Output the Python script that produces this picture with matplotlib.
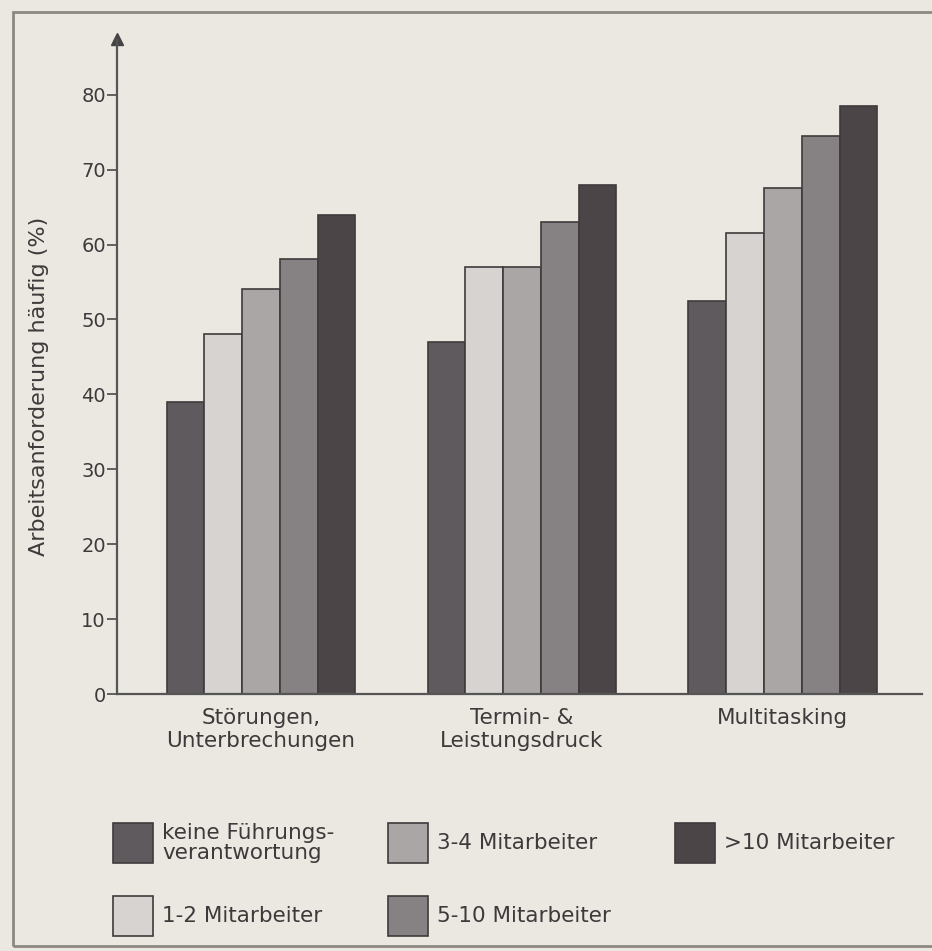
import numpy as np
import matplotlib.pyplot as plt
from matplotlib.patches import Rectangle

# data
categories = ['Störungen,\nUnterbrechungen', 'Termin- &\nLeistungsdruck', 'Multitasking']
series = ['keine Führungs-\nverantwortung', '1-2 Mitarbeiter', '3-4 Mitarbeiter',
          '5-10 Mitarbeiter', '>10 Mitarbeiter']
values = [
    [39, 47, 52.5],    # keine Führungsverantwortung
    [48, 57, 61.5],    # 1-2
    [54, 57, 67.5],    # 3-4
    [58, 63, 74.5],    # 5-10
    [64, 68, 78.5],    # >10
]
yticks = [0, 10, 20, 30, 40, 50, 60, 70, 80]

colors = ['#5f5a5e', '#d6d3d1', '#aaa6a6', '#868183', '#4b4547']
bg = '#ebe8e2'
edge = '#3f3a3c'
txt = '#3d3a3b'

plt.rcParams['font.family'] = ['DejaVu Sans']

fig = plt.figure(figsize=(9.32, 9.51), dpi=100, facecolor=bg)
ax = fig.add_axes([117/932, 1-694/951, 805/932, 654/951])
ax.set_facecolor(bg)

x = np.arange(len(categories))
w = 0.1448
for i, (s, v) in enumerate(zip(series, values)):
    ax.bar(x + (i - 2) * w, v, width=w, color=colors[i], edgecolor=edge, linewidth=1.2)

ax.set_xlim(-0.552, 2.533)
ax.set_ylim(0, 87.3)
ax.set_yticks(yticks)
ax.set_xticks(x)
ax.set_xticklabels(categories, fontsize=15.5, color=txt, linespacing=1.2)
ax.tick_params(axis='x', length=0, pad=10)
ax.tick_params(axis='y', length=7, width=1.3, color='#555', labelsize=14, labelcolor=txt, pad=1)
for side in ['top', 'right']:
    ax.spines[side].set_visible(False)
for side in ['left', 'bottom']:
    ax.spines[side].set_color('#555')
    ax.spines[side].set_linewidth(1.6)
# arrow at the top of the y axis
ax.plot([-0.552], [87.4], marker='^', color='#444', markersize=8, clip_on=False)
ax.set_ylabel('Arbeitsanforderung häufig (%)', fontsize=16, color=txt)
ax.yaxis.set_label_coords(-0.085, 0.47)

# legend, laid out by hand (pixel positions of the swatches)
leg = [
    (113, 823, 0), (388, 823, 2), (675, 823, 4),
    (113, 896, 1), (388, 896, 3),
]
for lx, ly, i in leg:
    fig.patches.append(Rectangle((lx/932, 1-(ly+40)/951), 40/932, 40/951,
                                 transform=fig.transFigure, facecolor=colors[i],
                                 edgecolor=edge, linewidth=1.2))
    fig.text((lx+49)/932, 1-(ly+20)/951, series[i], fontsize=15.5, color=txt,
             va='center', ha='left', linespacing=0.95)

# page frame
fig.patches.append(Rectangle((13/932, 5/951), 930/932, 934/951, transform=fig.transFigure,
                             fill=False, edgecolor='#8d8883', linewidth=2))

fig.savefig('out.png', dpi=100, facecolor=bg)
